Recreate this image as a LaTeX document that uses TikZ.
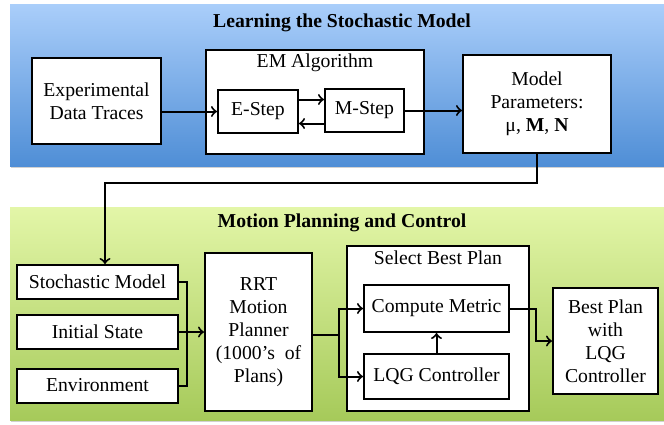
\documentclass[tikz,border=0pt]{standalone}
\usepackage{fontspec}
\setmainfont{Liberation Serif}
\definecolor{bluetop}{HTML}{AACEFA}
\definecolor{bluebottom}{HTML}{4F8ED6}
\definecolor{greentop}{HTML}{E3F6A8}
\definecolor{greenbottom}{HTML}{A6CA5A}
\begin{document}
\begin{tikzpicture}[x=0.5pt,y=-0.5pt,line width=1pt,>=to,
    every node/.style={font=\fontsize{9.85}{11.5}\selectfont},
    main node/.style={draw,line width=1pt,fill=white,inner sep=0pt,align=center},
    title node/.style={font=\fontsize{9.85}{11.5}\selectfont\bfseries}]
            \useasboundingbox (0,0) rectangle (664,424);

            % the two bands
            \fill[black!18] (11,6) rectangle (664,168);
            \shade[top color=bluetop,bottom color=bluebottom] (10,4) rectangle (664,166);
            \fill[black!18] (11,209) rectangle (664,422);
            \shade[top color=greentop,bottom color=greenbottom] (10,207) rectangle (664,420);
            \node[title node] (learn) at (342,23) {Learning the Stochastic Model};
            \node[title node] (motion) at (342,223) {Motion Planning and Control};

            \node[main node,minimum width=64.5pt,minimum height=43pt] (exp) at (96.5,101) {Experimental\\Data Traces};
            \node[main node,minimum width=109pt,minimum height=52pt] (em) at (315,102) {};
            \node (emlabel) at (315,63) {EM Algorithm};
            \node[main node,minimum width=40pt,minimum height=21.5pt] (estep) at (258,111.5) {E-Step};
            \node[main node,minimum width=39.5pt,minimum height=21.5pt] (mstep) at (364.5,110.5) {M-Step};
            \node[main node,minimum width=74pt,minimum height=49pt] (model) at (537,104) {Model\\Parameters:\\μ, \textbf{M}, \textbf{N}};

            \node[main node,minimum width=80.5pt,minimum height=17pt] (sm) at (97.5,282) {Stochastic Model};
            \node[main node,minimum width=80.5pt,minimum height=17pt] (is) at (97.5,332) {Initial State};
            \node[main node,minimum width=80.5pt,minimum height=17pt] (env) at (97.5,385.5) {Environment};
            \node[main node,minimum width=53.5pt,minimum height=79pt] (rrt) at (258.5,332) {RRT\\Motion\\Planner\\(1000’s~ of\\Plans)};
            \node[main node,minimum width=91pt,minimum height=82.5pt] (sel) at (438,328.5) {};
            \node (sellabel) at (438,258) {Select Best Plan};
            \node[main node,minimum width=72.5pt,minimum height=23.5pt] (cm) at (436.5,308.5) {Compute Metric};
            \node[main node,minimum width=72.5pt,minimum height=22.5pt] (lqg) at (436.5,376.5) {LQG Controller};
            \node[main node,minimum width=52.5pt,minimum height=53pt] (best) at (605.5,341) {Best Plan\\with\\LQG\\Controller};

            \coordinate (drop) at (105,183);
            \coordinate (merge) at (187,332);
            \coordinate (split) at (339,335);
            \coordinate (bend) at (536,341);

            \path[->] (exp.east |- estep) edge (estep.west);
            \path[->] ([yshift=6pt]estep.east) edge ([yshift=6pt]estep.east -| mstep.west);
            \path[->] ([yshift=-6pt]estep.east -| mstep.west) edge ([yshift=-6pt]estep.east);
            \path[->] (mstep.east) edge (mstep.east -| model.west);
            \draw[->] (model.south) |- (drop) -- (drop |- sm.north);

            \draw (sm.east) -| (merge);
            \draw (env.east) -| (merge);
            \path[->] (is.east) edge (rrt.west);
            \draw (rrt.east |- split) -- (split);
            \draw[->] (split) |- (cm.west);
            \draw[->] (split) |- (lqg.west);
            \path[->] (lqg.north) edge (cm.south);
            \draw[->] (cm.east) -| (bend) -- (best.west);
        \end{tikzpicture}
\end{document}
